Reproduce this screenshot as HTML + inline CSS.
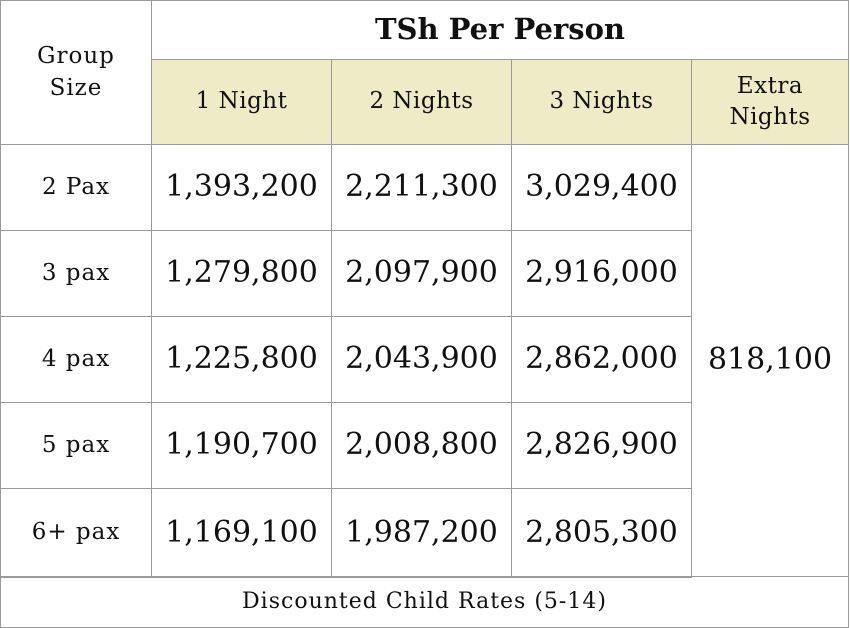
<!DOCTYPE html>
<html><head><meta charset="utf-8"><style>
body{margin:0;background:#fff;width:850px;height:628px;overflow:hidden}
#t{position:relative;width:850px;height:628px;font-family:"DejaVu Serif","Liberation Serif",serif;color:#111}
.c{position:absolute;box-sizing:border-box;border:1px solid #9a9a9a;display:flex;align-items:center;justify-content:center;text-align:center;line-height:1.35}
.y{background:#eeebc6}
.n{font-size:30px}
.g{font-size:23px;letter-spacing:1px}
.h{font-size:23px;letter-spacing:.5px}
</style></head><body>
<div id="t">
<div class="c g" style="left:0;top:0;width:152px;height:145px">Group<br>Size</div>
<div class="c" style="left:151px;top:0;width:698px;height:60px;font-size:29px;font-weight:bold">TSh Per Person</div>
<div class="c y h" style="left:151px;top:59px;width:181px;height:86px">1 Night</div>
<div class="c y h" style="left:331px;top:59px;width:181px;height:86px">2 Nights</div>
<div class="c y h" style="left:511px;top:59px;width:181px;height:86px">3 Nights</div>
<div class="c y h" style="left:691px;top:59px;width:158px;height:86px">Extra<br>Nights</div>
<div id="rows"></div>
<div class="c n" style="left:691px;top:144px;width:158px;height:433px">818,100</div>
<div class="c g" style="left:0;top:576px;width:849px;height:52px;font-size:22px">Discounted Child Rates (5-14)</div>
</div>
<script>
const groups=["2 Pax","3 pax","4 pax","5 pax","6+ pax"];
const oneNight=["1,393,200","1,279,800","1,225,800","1,190,700","1,169,100"];
const twoNights=["2,211,300","2,097,900","2,043,900","2,008,800","1,987,200"];
const threeNights=["3,029,400","2,916,000","2,862,000","2,826,900","2,805,300"];
const t=document.getElementById('t');
const tops=[144,230,316,402,488,577];
function cell(x,w,y,h,txt,cls,name){
  const d=document.createElement('div');
  d.className='c '+cls;
  d.style.cssText=`left:${x}px;top:${y}px;width:${w}px;height:${h}px`;
  d.textContent=txt;
  
  
  t.appendChild(d);
}
groups.forEach((g,i)=>{
  const y=tops[i],h=tops[i+1]-tops[i]+1;
  cell(0,152,y,h,g,'g','group-size-cell');
  cell(151,181,y,h,oneNight[i],'n','one-night-cell');
  cell(331,181,y,h,twoNights[i],'n','two-nights-cell');
  cell(511,181,y,h,threeNights[i],'n','three-nights-cell');
});
</script>
</body></html>
